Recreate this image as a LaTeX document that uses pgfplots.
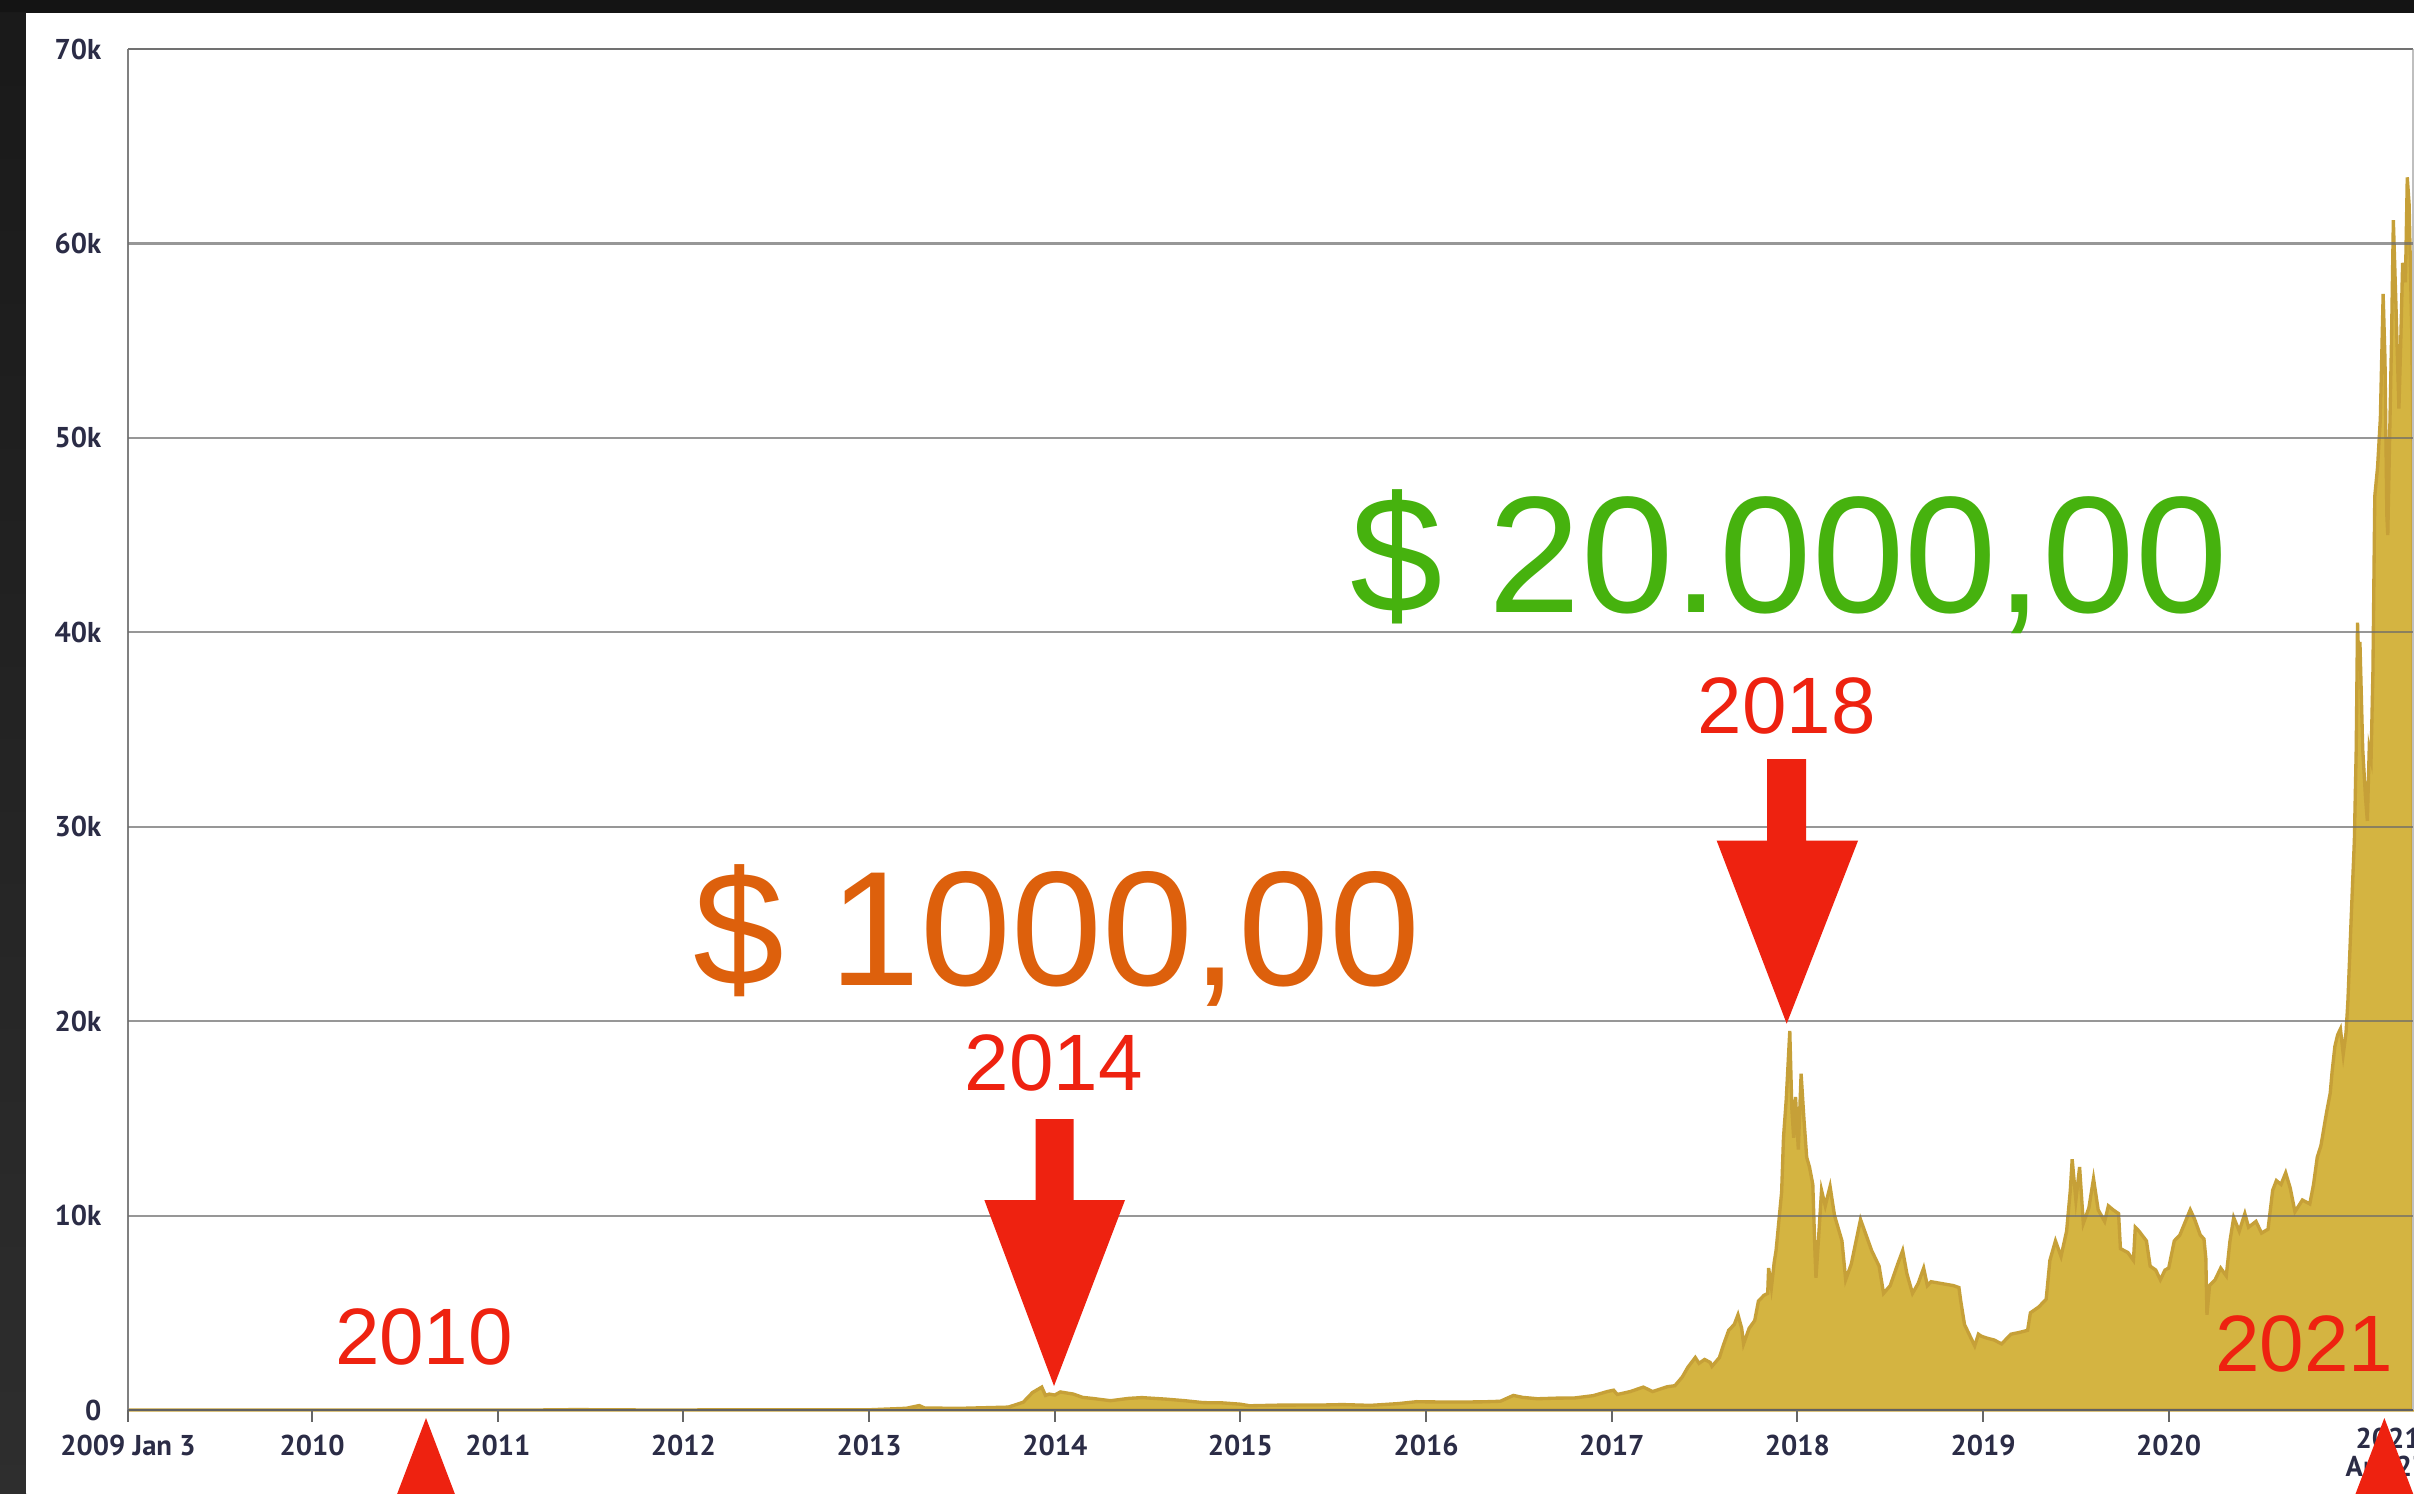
\documentclass[border=0pt]{standalone}
\usepackage{pgfplots}
\pgfplotsset{compat=1.18}
\usepackage{fontspec}
\setmainfont{Liberation Sans}
\newfontfamily\tickfont{PT Sans}
\definecolor{gold}{RGB}{212,180,65}
\definecolor{golddark}{RGB}{198,160,56}
\definecolor{ticknavy}{RGB}{43,44,70}
\definecolor{arrowred}{RGB}{238,34,16}
\definecolor{txtgreen}{RGB}{70,178,14}
\definecolor{txtorange}{RGB}{221,96,12}
\pgfplotstableread{
t v
2009.008 0
2010.0 0
2010.5 0.1
2010.9 0.3
2011.2 1
2011.4 20
2011.45 30
2011.5 15
2011.8 3
2012.0 5
2012.5 7
2012.8 12
2013.0 13
2013.2 90
2013.27 230
2013.3 100
2013.5 90
2013.75 150
2013.83 400
2013.88 900
2013.93 1180
2013.95 750
2013.97 820
2014.0 770
2014.03 930
2014.1 820
2014.15 650
2014.2 600
2014.3 480
2014.4 600
2014.47 640
2014.5 620
2014.6 560
2014.7 480
2014.8 380
2014.9 370
2015.0 300
2015.05 220
2015.2 250
2015.45 260
2015.55 280
2015.7 240
2015.85 330
2015.95 430
2016.0 420
2016.15 410
2016.3 420
2016.4 450
2016.47 750
2016.52 650
2016.6 580
2016.7 610
2016.8 620
2016.9 740
2016.98 960
2017.01 1020
2017.03 800
2017.1 950
2017.17 1180
2017.22 950
2017.3 1200
2017.34 1250
2017.38 1700
2017.41 2200
2017.45 2700
2017.47 2400
2017.5 2600
2017.53 2450
2017.54 2250
2017.58 2700
2017.6 3300
2017.63 4100
2017.66 4400
2017.68 4900
2017.7 4200
2017.71 3400
2017.74 4200
2017.77 4600
2017.79 5600
2017.82 5900
2017.84 6000
2017.845 7300
2017.86 6300
2017.875 7600
2017.885 8200
2017.9 9700
2017.915 11200
2017.925 14000
2017.94 16000
2017.959 19500
2017.97 15500
2017.98 14000
2017.99 16100
2018.005 13400
2018.02 17300
2018.035 15000
2018.05 13000
2018.065 12500
2018.083 11600
2018.095 8000
2018.10 6800
2018.115 9000
2018.13 11300
2018.15 10500
2018.176 11500
2018.2 10000
2018.24 8700
2018.26 6700
2018.29 7500
2018.34 9800
2018.37 9000
2018.40 8200
2018.44 7400
2018.464 6000
2018.5 6400
2018.54 7500
2018.567 8200
2018.59 7000
2018.62 6000
2018.65 6500
2018.68 7300
2018.7 6400
2018.72 6600
2018.78 6500
2018.84 6400
2018.87 6300
2018.88 5600
2018.9 4400
2018.93 3800
2018.955 3300
2018.975 3900
2018.99 3800
2019.02 3700
2019.06 3600
2019.1 3400
2019.15 3900
2019.2 4000
2019.24 4100
2019.255 5000
2019.3 5300
2019.34 5700
2019.36 7700
2019.39 8700
2019.42 7900
2019.45 9200
2019.47 11300
2019.48 12900
2019.5 10800
2019.52 12500
2019.54 9600
2019.57 10400
2019.595 11900
2019.62 10300
2019.655 9700
2019.675 10500
2019.70 10300
2019.73 10100
2019.74 8300
2019.78 8100
2019.81 7700
2019.82 9400
2019.84 9200
2019.88 8700
2019.9 7400
2019.93 7200
2019.955 6700
2019.98 7200
2020.0 7300
2020.03 8700
2020.06 9000
2020.09 9700
2020.116 10300
2020.14 9800
2020.17 9000
2020.19 8800
2020.2 7800
2020.206 4900
2020.22 6400
2020.25 6700
2020.28 7300
2020.31 6900
2020.33 8700
2020.35 9900
2020.38 9200
2020.41 10100
2020.43 9400
2020.47 9700
2020.5 9100
2020.535 9300
2020.56 11300
2020.58 11800
2020.605 11600
2020.63 12200
2020.655 11400
2020.68 10200
2020.72 10800
2020.76 10600
2020.78 11600
2020.80 13000
2020.82 13600
2020.85 15300
2020.87 16300
2020.88 17400
2020.895 18700
2020.91 19300
2020.925 19600
2020.94 18300
2020.955 19400
2020.965 21000
2020.975 23400
2020.99 27000
2021.0 29300
2021.01 34000
2021.017 40500
2021.025 38000
2021.03 39500
2021.045 34000
2021.06 31500
2021.07 30300
2021.08 34000
2021.09 33500
2021.1 38000
2021.11 47000
2021.125 48500
2021.14 51000
2021.155 57400
2021.165 54000
2021.175 46000
2021.18 45000
2021.19 50000
2021.2 55000
2021.21 61200
2021.225 56500
2021.24 51500
2021.25 55000
2021.26 59000
2021.275 58000
2021.285 63400
2021.295 62000
2021.31 55000
2021.316 49200
}\btcdata
\begin{document}
\begin{tikzpicture}
\useasboundingbox (0,0) rectangle (724.2pt,447.9pt);
\clip (0,0) rectangle (724.2pt,447.9pt);
\fill[black!92] (0,0) rectangle (724.2pt,447.9pt);
\shade[top color=black!90, bottom color=black!82] (0,0) rectangle (7.8pt,444pt);
\fill[white] (7.8pt,0) rectangle (724.2pt,444pt);
\begin{axis}[
  at={(38.4pt,24.9pt)}, anchor=south west,
  scale only axis, width=685.5pt, height=408.3pt,
  xmin=2009.008, xmax=2021.316, ymin=0, ymax=70000,
  scaled y ticks=false, scaled x ticks=false,
  axis on top,
  axis line style={draw=none},
  ytick={0,10000,20000,30000,40000,50000,60000,70000},
  yticklabels={0,10k,20k,30k,40k,50k,60k,70k},
  xtick={2009.008,2010,2011,2012,2013,2014,2015,2016,2017,2018,2019,2020},
  xticklabels={2009 Jan 3,2010,2011,2012,2013,2014,2015,2016,2017,2018,2019,2020},
  ymajorgrids,
  grid style={black!58, opacity=0.7, line width=0.65pt},
  major tick length=3.5pt,
  tick style={black!60, line width=0.6pt},
  xtick pos=bottom, ytick pos=left,
  tick align=outside,
  ytick style={draw=none},
  tick label style={font=\tickfont\bfseries\fontsize{8.6}{10}\selectfont, text=ticknavy},
  yticklabel style={xshift=-1pt},
  xticklabel style={yshift=-0.5pt},
  /pgf/number format/assume math mode=true,
  clip=false,
]
\addplot[fill=gold, draw=golddark, line width=1pt] table[x=t,y=v] {\btcdata} \closedcycle;
\draw[black!50, line width=0.7pt] (rel axis cs:0,0) -- (rel axis cs:0,1);
\draw[black!50, line width=0.7pt] (rel axis cs:0,1) -- (rel axis cs:1,1);
\draw[black!25, line width=0.5pt] (rel axis cs:1,0) -- (rel axis cs:1,1);
\draw[black!70, line width=0.8pt] (rel axis cs:0,0) -- (rel axis cs:1,0);
\end{axis}
% end label
\node[anchor=north west, inner sep=0pt, text=ticknavy, font=\tickfont\bfseries\fontsize{8.6}{10}\selectfont] at (706.5pt,19.6pt) {2021};
\node[anchor=north west, inner sep=0pt, text=ticknavy, font=\tickfont\bfseries\fontsize{8.6}{10}\selectfont] at (703.5pt,11.2pt) {Apr 27};
% big texts
\node[anchor=base west, inner sep=0pt, text=txtgreen, font=\fontsize{49.8}{51}\selectfont] at (405pt,264.2pt) {\$ 20.000,00};
\node[anchor=base west, inner sep=0pt, text=txtorange, font=\fontsize{49}{50}\selectfont] at (207.9pt,152.4pt) {\$ 1000,00};
% year labels
\node[anchor=base, inner sep=0pt, text=arrowred, font=\fontsize{24}{25}\selectfont] at (536pt,228pt) {2018};
\node[anchor=base, inner sep=0pt, text=arrowred, font=\fontsize{24}{25}\selectfont] at (316.1pt,120.9pt) {2014};
\node[anchor=base, inner sep=0pt, text=arrowred, font=\fontsize{24}{25}\selectfont] at (127.2pt,38.7pt) {2010};
\node[anchor=base, inner sep=0pt, text=arrowred, font=\fontsize{24}{25}\selectfont] at (691.2pt,36.4pt) {2021};
% arrows down
\fill[arrowred] (530.1pt,220.2pt) -- (541.8pt,220.2pt) -- (541.8pt,195.7pt) -- (557.4pt,195.7pt) -- (536pt,140.8pt) -- (515pt,195.7pt) -- (530.1pt,195.7pt) -- cycle;
\fill[arrowred] (310.7pt,112.2pt) -- (322.1pt,112.2pt) -- (322.1pt,87.9pt) -- (337.5pt,87.9pt) -- (316.2pt,32.1pt) -- (295.3pt,87.9pt) -- (310.7pt,87.9pt) -- cycle;
% arrows up
\fill[arrowred] (127.8pt,22.5pt) -- (148.9pt,-33pt) -- (106.7pt,-33pt) -- cycle;
\fill[arrowred] (715.3pt,22.5pt) -- (736.4pt,-33pt) -- (694.2pt,-33pt) -- cycle;
\end{tikzpicture}
\end{document}
